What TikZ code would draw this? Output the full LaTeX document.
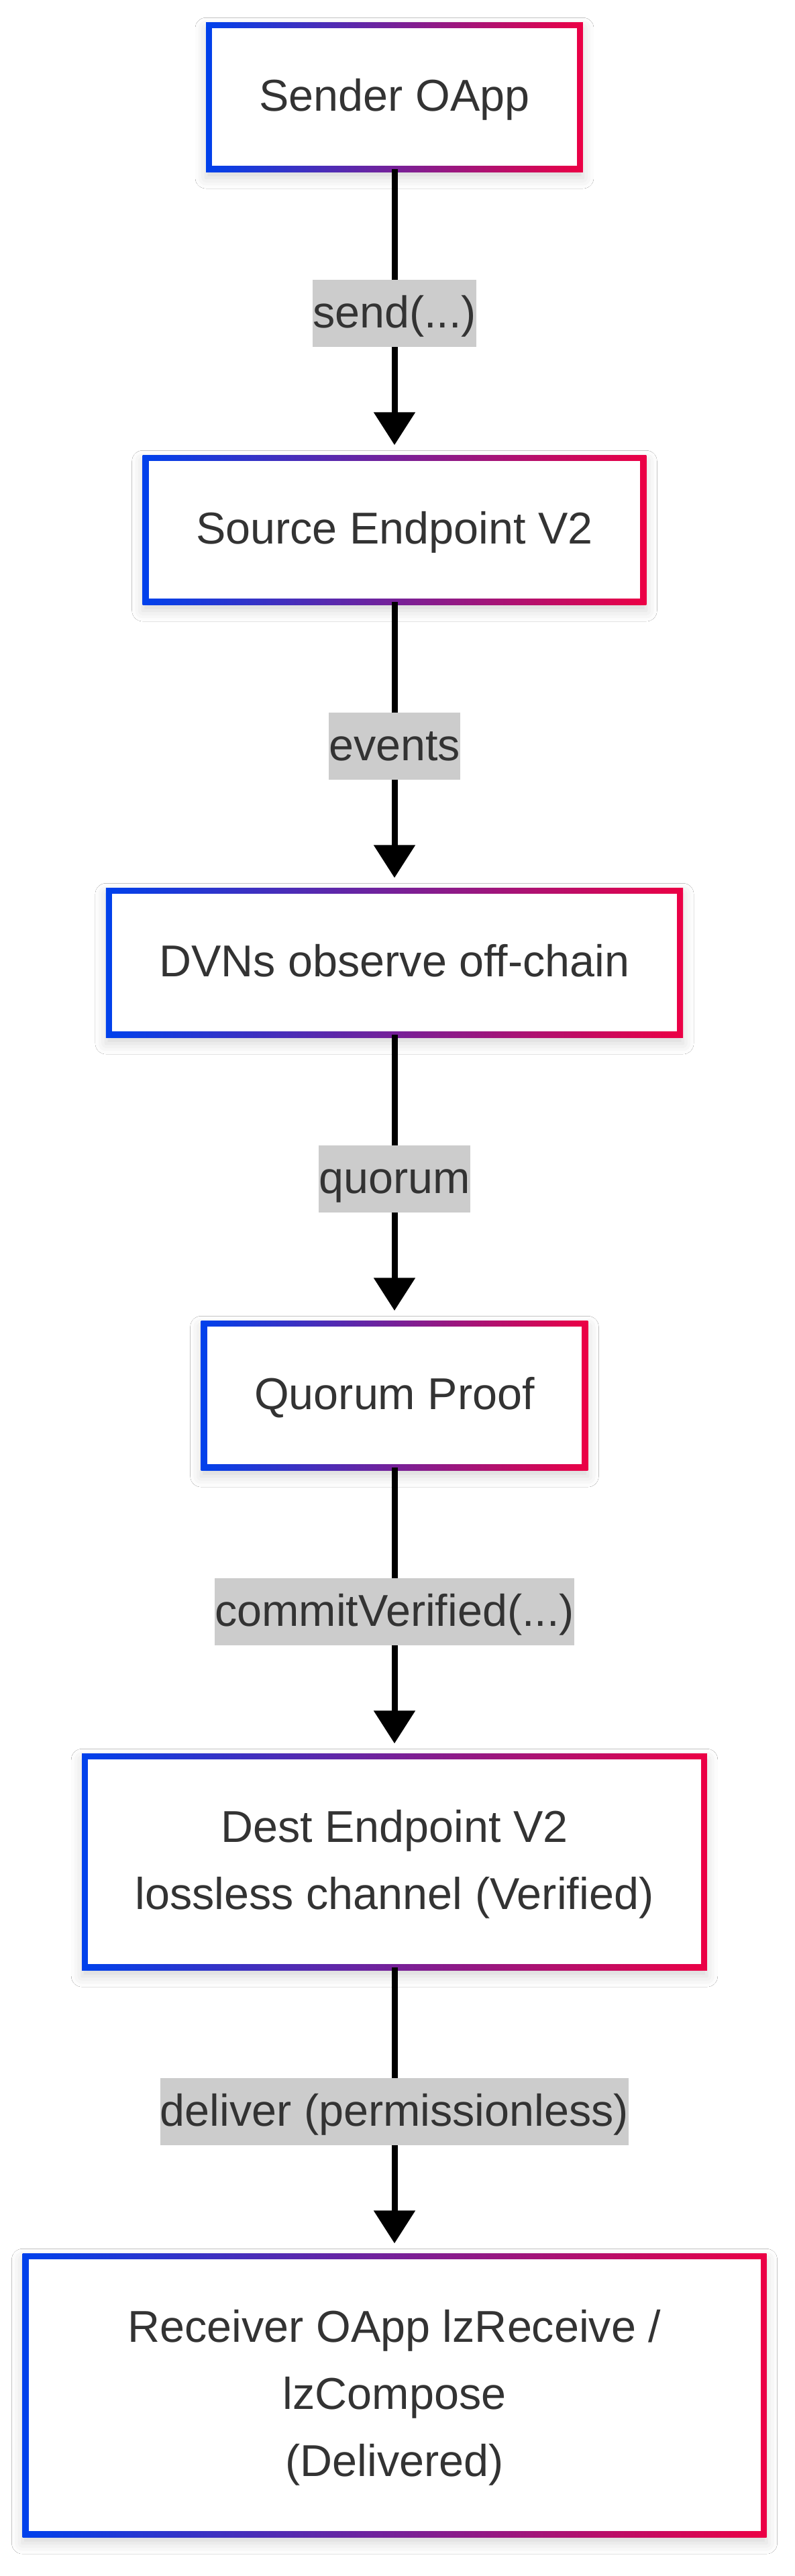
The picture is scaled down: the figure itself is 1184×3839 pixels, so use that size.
\documentclass[tikz,border=0pt]{standalone}
\usepackage{fontspec}
\setmainfont{Liberation Sans}
\usetikzlibrary{arrows.meta,positioning,shadows.blur}
\definecolor{cL}{HTML}{0041EC}
\definecolor{cR}{HTML}{EC0045}
\definecolor{txt}{HTML}{333333}
\definecolor{lblbg}{HTML}{CCCCCC}
\newcommand\lnstrut{\rule[-29pt]{0pt}{100pt}}
\begin{document}
\begin{tikzpicture}[x=1pt,y=-1pt,
  flowbox/.style={rectangle, outer sep=0pt, inner xsep=79.5pt, inner ysep=61.35pt,
    left color=cL, right color=cR, text=txt, align=center,
    font=\fontsize{66.5pt}{100pt}\selectfont,
    blur shadow={shadow xshift=0pt, shadow yshift=-9pt, shadow blur radius=16pt, shadow opacity=16},
    path picture={\fill[white] ([shift={(9pt,9pt)}]path picture bounding box.south west)
      rectangle ([shift={(-9pt,-9pt)}]path picture bounding box.north east);}},
  lbl/.style={fill=lblbg, text=txt, inner xsep=0pt, inner ysep=0pt, outer sep=0pt,
    font=\fontsize{66.5pt}{100pt}\selectfont},
  arr/.style={draw=black, line width=9pt, -{Triangle[length=49pt,width=60pt]},
    shorten >=15pt, shorten <=-4pt}]
\useasboundingbox[fill=white] (0,0) rectangle (1184,3839);
\node[flowbox] (b1) at (588,144.65) {\lnstrut Sender OApp};
\node[flowbox, below=422.3pt of b1] (b2) {\lnstrut Source Endpoint V2};
\node[flowbox, below=422.3pt of b2] (b3) {\lnstrut DVNs observe off-chain};
\node[flowbox, below=422.3pt of b3] (b4) {\lnstrut Quorum Proof};
\node[flowbox, below=422.3pt of b4] (b5) {\lnstrut Dest Endpoint V2\\\lnstrut lossless channel (Verified)};
\node[flowbox, below=422.3pt of b5, minimum width=1109pt] (b6) {\lnstrut Receiver OApp lzReceive /\\\lnstrut lzCompose\\\lnstrut (Delivered)};
\draw[arr] (b1.south) -- node[lbl] (l1) {\lnstrut send(...)} (b2.north);
\draw[arr] (b2.south) -- node[lbl] (l2) {\lnstrut events} (b3.north);
\draw[arr] (b3.south) -- node[lbl] (l3) {\lnstrut quorum} (b4.north);
\draw[arr] (b4.south) -- node[lbl] (l4) {\lnstrut commitVerified(...)} (b5.north);
\draw[arr] (b5.south) -- node[lbl] (l5) {\lnstrut deliver (permissionless)} (b6.north);
\end{tikzpicture}
\end{document}
